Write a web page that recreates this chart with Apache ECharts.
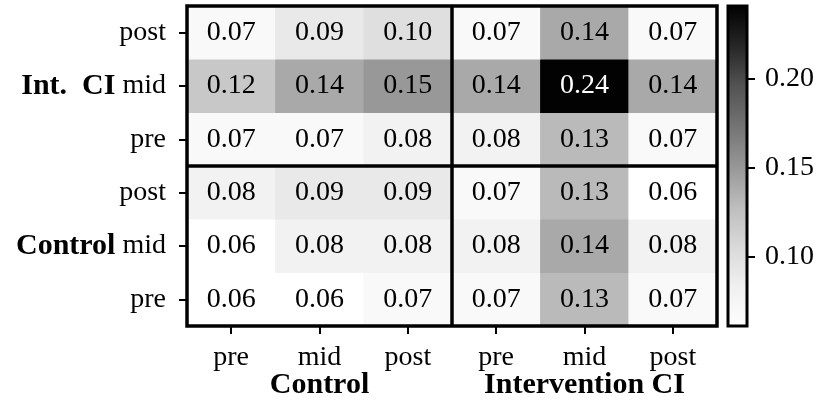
<!DOCTYPE html>
<html><head><meta charset="utf-8">
<script src="https://cdn.jsdelivr.net/npm/echarts@6/dist/echarts.min.js"></script>
<style>html,body{margin:0;padding:0;background:#fff}#c{width:831px;height:406px}</style>
</head><body><div id="c"></div>
<script>
// ---- data ----
const xCategories = ['pre', 'mid', 'post', 'pre', 'mid', 'post'];
const xGroups = ['Control', 'Intervention CI'];
const yCategories = ['pre', 'mid', 'post', 'pre', 'mid', 'post']; // bottom to top
const yGroups = ['Control', 'Int.\u2002CI'];
// rows listed bottom to top
const rowControlPre  = [0.06, 0.06, 0.07, 0.07, 0.13, 0.07];
const rowControlMid  = [0.06, 0.08, 0.08, 0.08, 0.14, 0.08];
const rowControlPost = [0.08, 0.09, 0.09, 0.07, 0.13, 0.06];
const rowIntPre      = [0.07, 0.07, 0.08, 0.08, 0.13, 0.07];
const rowIntMid      = [0.12, 0.14, 0.15, 0.14, 0.24, 0.14];
const rowIntPost     = [0.07, 0.09, 0.10, 0.07, 0.14, 0.07];
const colorbarTicks = [0.10, 0.15, 0.20];
const vMin = 0.061, vMax = 0.241;

// ---- styles ----
const greys = ['#ffffff', '#f0f0f0', '#d9d9d9', '#bdbdbd', '#969696', '#737373', '#525252', '#252525', '#000000'];
const FONT = 'Liberation Serif';
const FS = 28;
const FSB = 30;

const rows = [rowControlPre, rowControlMid, rowControlPost, rowIntPre, rowIntMid, rowIntPost];
const heatData = [];
rows.forEach((row, yi) => row.forEach((v, xi) => {
  heatData.push({
    value: [xi, yi, v],
    label: { color: v > 0.2 ? '#ffffff' : '#000000' }
  });
}));

const chart = echarts.init(document.getElementById('c'), null, { renderer: 'canvas' });
const gradStops = greys.map((c, i) => ({ offset: 1 - i / (greys.length - 1), color: c }));

chart.setOption({
  animation: false,
  backgroundColor: '#ffffff',
  grid: [
    { left: 187, top: 6, width: 530, height: 320 },
    { left: 728, top: 6, width: 19, height: 320 }
  ],
  xAxis: [
    {
      gridIndex: 0, type: 'category', data: xCategories, position: 'bottom',
      axisLine: { show: false },
      axisTick: { show: true, alignWithLabel: true, length: 8, lineStyle: { color: '#000', width: 2 } },
      axisLabel: { color: '#000', fontFamily: FONT, fontSize: FS, margin: 18 },
      splitLine: { show: false }
    },
    {
      gridIndex: 0, type: 'category', data: xGroups, position: 'bottom',
      axisLine: { show: false }, axisTick: { show: false },
      axisLabel: { color: '#000', fontFamily: FONT, fontWeight: 'bold', fontSize: FSB, margin: 44 },
      splitLine: { show: false }
    },
    {
      gridIndex: 1, type: 'category', data: ['cb'], show: false
    }
  ],
  yAxis: [
    {
      gridIndex: 0, type: 'category', data: yCategories,
      axisLine: { show: false },
      axisTick: { show: true, alignWithLabel: true, length: 8, lineStyle: { color: '#000', width: 2 } },
      axisLabel: {
        color: '#000', fontFamily: FONT, fontSize: FS, margin: 21,
        formatter: (val, idx) => idx % 3 === 1 ? '{g|' + yGroups[Math.floor(idx / 3)] + '} ' + val : val,
        rich: {
          g: { fontFamily: FONT, fontWeight: 'bold', fontSize: FSB, color: '#000' }
        }
      },
      splitLine: { show: false }
    },
    {
      gridIndex: 1, type: 'value', min: vMin, max: vMax, position: 'right',
      axisLine: { show: false },
      axisTick: { show: true, length: 8, customValues: colorbarTicks, lineStyle: { color: '#000', width: 2 } },
      axisLabel: {
        color: '#000', fontFamily: FONT, fontSize: FS, margin: 18,
        customValues: colorbarTicks, formatter: v => v.toFixed(2)
      },
      splitLine: { show: false }
    }
  ],
  visualMap: {
    type: 'continuous', show: false, min: vMin, max: vMax, dimension: 2, seriesIndex: 0,
    inRange: { color: greys }
  },
  series: [
    {
      type: 'heatmap', xAxisIndex: 0, yAxisIndex: 0, data: heatData,
      label: { show: true, fontFamily: FONT, fontSize: FS, formatter: p => p.value[2].toFixed(2) },
      itemStyle: { borderWidth: 0 },
      emphasis: { disabled: true }
    },
    {
      type: 'custom', xAxisIndex: 0, yAxisIndex: 0, z: 10, silent: true,
      data: [[2, 2]],
      renderItem: (params, api) => {
        const cs = params.coordSys;
        const size = api.size([1, 1]);
        const p = api.coord([api.value(0), api.value(1)]);
        const vx = p[0] + size[0] / 2;
        const hy = p[1] - size[1] / 2;
        const st = { stroke: '#000', lineWidth: 3.5, fill: null };
        return {
          type: 'group',
          children: [
            { type: 'rect', shape: { x: cs.x, y: cs.y, width: cs.width, height: cs.height }, style: st },
            { type: 'line', shape: { x1: vx, y1: cs.y, x2: vx, y2: cs.y + cs.height }, style: st },
            { type: 'line', shape: { x1: cs.x, y1: hy, x2: cs.x + cs.width, y2: hy }, style: st }
          ]
        };
      }
    },
    {
      type: 'custom', xAxisIndex: 2, yAxisIndex: 1, silent: true,
      data: [[0, vMin, vMax]],
      renderItem: (params, api) => {
        const cs = params.coordSys;
        const top = api.coord([0, api.value(2)])[1];
        const bot = api.coord([0, api.value(1)])[1];
        return {
          type: 'rect',
          shape: { x: cs.x, y: top, width: cs.width, height: bot - top },
          style: {
            fill: new echarts.graphic.LinearGradient(0, 0, 0, 1, gradStops),
            stroke: '#000', lineWidth: 3
          }
        };
      }
    }
  ]
});
</script>
</body></html>
